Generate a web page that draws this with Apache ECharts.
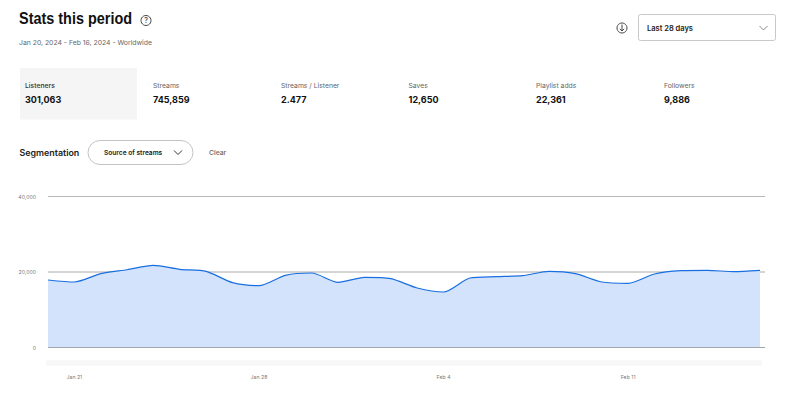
<!DOCTYPE html>
<html><head><meta charset="utf-8">
<style>html,body{margin:0;padding:0;background:#fff}#c{width:800px;height:394px}</style>
<script src="https://cdn.jsdelivr.net/npm/echarts@6/dist/echarts.min.js"></script>
</head><body><div id="c"></div>
<script>
var days = ['Jan 20','Jan 21','Jan 22','Jan 23','Jan 24','Jan 25','Jan 26','Jan 27','Jan 28','Jan 29','Jan 30','Jan 31','Feb 1','Feb 2','Feb 3','Feb 4','Feb 5','Feb 6','Feb 7','Feb 8','Feb 9','Feb 10','Feb 11','Feb 12','Feb 13','Feb 14','Feb 15','Feb 16'];
var listeners = [17880,17350,19550,20600,21770,20700,20180,17170,16370,19120,19730,17270,18590,18230,15760,14700,18410,18760,19020,20180,19550,17350,17000,19470,20340,20440,20090,20440];
var labelledDays = ['Jan 21','Jan 28','Feb 4','Feb 11'];
var yTicks = [0,20000,40000];
var statNames = ['Listeners','Streams','Streams / Listener','Saves','Playlist adds','Followers'];
var statValues = ['301,063','745,859','2.477','12,650','22,361','9,886'];

var FONT = 'Inter, "Noto Sans", sans-serif';
var X_MAX = 27.19;
function txt(x,y,t,size,weight,color,extra){
  return {type:'text',x:x,y:y,silent:true,style:Object.assign({text:t,fontFamily:FONT,fontSize:size,fontWeight:weight,fill:color,textVerticalAlign:'middle'},extra||{})};
}
function chevron(cx,cy,w,h,color){
  return {type:'polyline',silent:true,shape:{points:[[cx-w/2,cy-h/2],[cx,cy+h/2],[cx+w/2,cy-h/2]]},style:{stroke:color,lineWidth:1,fill:null}};
}
var statX = [25,153,281,408.5,536,664];
var g = [];
var title = txt(19,18.5,'Stats this period',16.5,700,'#111',{fontFamily:'"Liberation Sans", sans-serif'});
title.scaleX = 0.875;
g.push(title);
g.push({type:'circle',silent:true,shape:{cx:146,cy:20.5,r:5},style:{stroke:'#444',lineWidth:1,fill:null}});
g.push(txt(146,20.5,'?',7,500,'#444',{textAlign:'center'}));
g.push(txt(19,42,'Jan 20, 2024 - Feb 16, 2024 - Worldwide',6.85,400,'#666',{}));
g.push({type:'circle',silent:true,shape:{cx:622,cy:28,r:5},style:{stroke:'#444',lineWidth:1,fill:null}});
g.push({type:'polyline',silent:true,shape:{points:[[622,24.5],[622,31]]},style:{stroke:'#444',lineWidth:1,fill:null}});
g.push({type:'polyline',silent:true,shape:{points:[[619.8,28.8],[622,31],[624.2,28.8]]},style:{stroke:'#444',lineWidth:1,fill:null}});
g.push({type:'rect',silent:true,shape:{x:638.5,y:14.5,width:137,height:26,r:2},style:{stroke:'#c9c9c9',lineWidth:1,fill:'#fff'}});
g.push(txt(647,28,'Last 28 days',7.5,600,'#222',{}));
g.push(chevron(763.5,28,8,4,'#888'));
g.push({type:'rect',silent:true,shape:{x:20,y:68,width:117,height:51.5},style:{fill:'#f5f5f5'}});
statNames.forEach(function(n,i){
  g.push(txt(statX[i],85.5,n,6.8,i===0?500:400,i===0?'#333':'#666',{}));
  g.push(txt(statX[i],99.5,statValues[i],9,700,'#111',{}));
});
g.push(txt(19.5,152.5,'Segmentation',8.9,600,'#222',{}));
g.push({type:'rect',silent:true,shape:{x:88,y:140.5,width:105,height:24,r:12},style:{stroke:'#c4c4c4',lineWidth:1,fill:'#fff'}});
g.push(txt(104,152.5,'Source of streams',6.6,600,'#222',{}));
g.push(chevron(178,152.5,8,4,'#333'));
g.push(txt(209,152.5,'Clear',6.8,500,'#666',{}));
g.push({type:'rect',silent:true,z:-1,shape:{x:46,y:360,width:716,height:6},style:{fill:'#f8f8f8'}});

function guide(v,color,width,z){
  return {type:'line',z:z,silent:true,symbol:'none',data:[[0,v],[X_MAX,v]],lineStyle:{color:color,width:width}};
}
var chart = echarts.init(document.getElementById('c'),null,{renderer:'svg',width:800,height:394});
chart.setOption({
  animation:false,
  backgroundColor:'#fff',
  graphic:g,
  grid:{left:48,right:35,top:196.5,bottom:46.5},
  xAxis:{type:'value',min:0,max:X_MAX,splitLine:{show:false},axisLine:{show:false},axisTick:{show:false},
    axisLabel:{customValues:labelledDays.map(function(d){return days.indexOf(d);}),
      formatter:function(v){return days[Math.round(v)];},fontFamily:FONT,fontSize:5.2,color:'#777',margin:27}},
  yAxis:{type:'value',min:yTicks[0],max:yTicks[2],interval:yTicks[1],axisLine:{show:false},axisTick:{show:false},
    axisLabel:{formatter:function(v){return v.toLocaleString('en-US');},fontFamily:FONT,fontSize:5.2,color:'#777',margin:12},
    splitLine:{show:false}},
  series:[
    guide(yTicks[1],'#d4d4d4',2,1),
    guide(yTicks[2],'#b8b8b8',1,1),
    {type:'line',z:3,silent:true,name:'Listeners',data:listeners.map(function(v,i){return [i,v];}),smooth:0.25,symbol:'none',
      lineStyle:{color:'#1a6fe0',width:1.2},areaStyle:{color:'#d2e3fb',opacity:1}},
    guide(yTicks[0],'#a2a7ad',1,4)
  ]
});
</script></body></html>
